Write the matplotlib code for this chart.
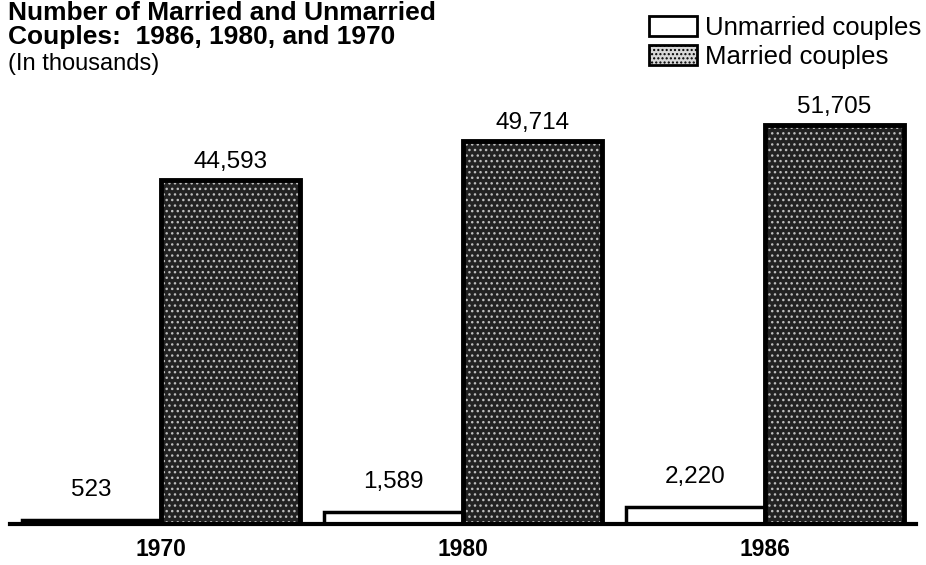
import matplotlib.pyplot as plt
import numpy as np
from matplotlib.patches import Patch

years = ["1970", "1980", "1986"]
unmarried = [523, 1589, 2220]
married = [44593, 49714, 51705]

plt.rcParams['font.family'] = ['Liberation Sans', 'DejaVu Sans']

fig = plt.figure(figsize=(9.26, 5.65), dpi=100)
ax = fig.add_axes([0.011, 0.072, 0.978, 0.765])

x = np.arange(len(years))
w = 0.46

# unmarried bars sit left of the year mark, married bars right of it
ax.bar(x - w / 2, unmarried, w, facecolor='white', edgecolor='black', linewidth=2.5)
ax.bar(x + w / 2, married, w, facecolor='#222222', edgecolor='#bdbdbd', hatch='...', linewidth=0)
ax.bar(x + w / 2, married, w, fill=False, edgecolor='black', linewidth=3.5)

for i in range(len(years)):
    ax.annotate(f"{unmarried[i]:,}", (x[i] - w / 2, unmarried[i]), xytext=(0, 14),
                textcoords='offset points', ha='center', va='bottom', fontsize=17.5)
    ax.annotate(f"{married[i]:,}", (x[i] + w / 2, married[i]), xytext=(0, 5),
                textcoords='offset points', ha='center', va='bottom', fontsize=17.5)

ax.set_xlim(-0.5, 2.5)
ax.set_ylim(0, 56000)
ax.set_xticks(x)
ax.set_xticklabels(years, fontsize=16.5, fontweight='bold')
ax.tick_params(axis='x', length=0, pad=10)
ax.set_yticks([])
for s in ['top', 'right', 'left']:
    ax.spines[s].set_visible(False)
ax.spines['bottom'].set_linewidth(3)

fig.text(0.009, 0.999, "Number of Married and Unmarried\nCouples:  1986, 1980, and 1970",
         fontsize=19, fontweight='heavy', va='top', ha='left', linespacing=1.0)
fig.text(0.009, 0.907, "(In thousands)", fontsize=17, va='top', ha='left')

handles = [Patch(facecolor='white', edgecolor='black', linewidth=2),
           Patch(facecolor='#d8d8d8', edgecolor='black', hatch='....', linewidth=2)]
fig.legend(handles, ["Unmarried couples", "Married couples"], loc='upper right',
           bbox_to_anchor=(0.995, 0.972), borderaxespad=0, borderpad=0, frameon=False,
           fontsize=18.5, handlelength=1.9, handleheight=0.8, handletextpad=0.3,
           labelspacing=0.2)

fig.savefig("out.png", dpi=100)
